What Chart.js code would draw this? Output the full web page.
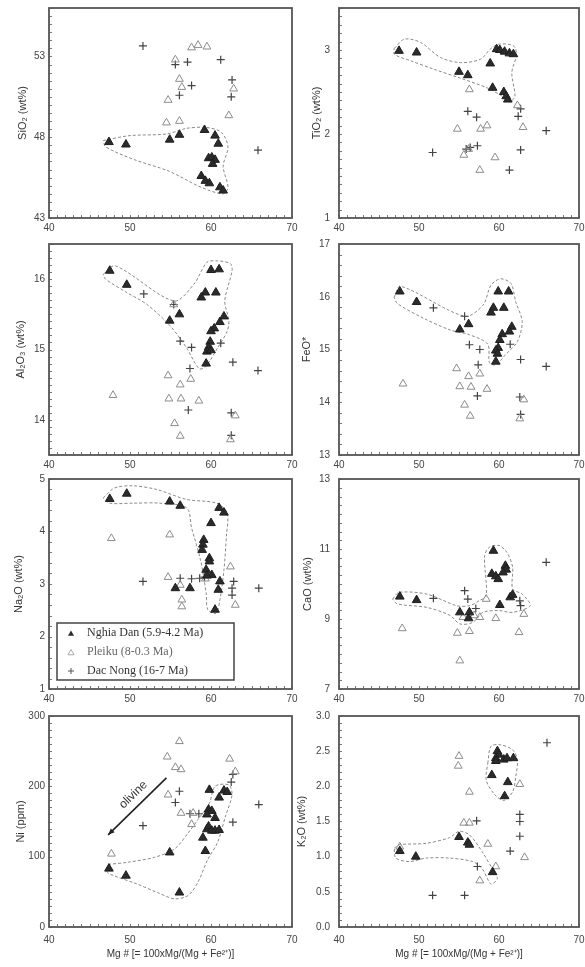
<!DOCTYPE html>
<html>
<head>
<meta charset="utf-8">
<script src="https://cdn.jsdelivr.net/npm/chart.js@4.4.1/dist/chart.umd.min.js"></script>
<style>
  body { margin: 0; background: #fff; width: 585px; height: 967px; position: relative; overflow: hidden; }
  canvas { position: absolute; }
</style>
</head>
<body>
<canvas id="cSiO2" width="300" height="236" style="left:0;top:2px"></canvas>
<canvas id="cTiO2" width="295" height="236" style="left:290px;top:2px"></canvas>
<canvas id="cAl2O3" width="300" height="237" style="left:0;top:238px"></canvas>
<canvas id="cFeO" width="295" height="237" style="left:290px;top:238px"></canvas>
<canvas id="cNa2O" width="300" height="236" style="left:0;top:473px"></canvas>
<canvas id="cCaO" width="295" height="236" style="left:290px;top:473px"></canvas>
<canvas id="cNi" width="300" height="250" style="left:0;top:710px"></canvas>
<canvas id="cK2O" width="295" height="250" style="left:290px;top:710px"></canvas>
<script>
// --- DATA: [Mg#, value] ---
const xTicks = [40, 50, 60, 70];

// SiO2 (wt%)
const sio2Nghia = [[47.4,47.7],[49.5,47.55],[54.9,47.85],[56.1,48.15],[59.2,48.45],[60.5,48.1],[60.9,47.6],[59.7,46.7],[60.1,46.75],[60.5,46.6],[60.2,46.35],[58.8,45.6],[59.3,45.3],[59.8,45.15],[61.1,44.9],[61.5,44.7]];
const sio2Pleiku = [[55.6,52.8],[57.6,53.55],[58.4,53.7],[59.5,53.6],[56.1,51.6],[56.4,51.1],[54.7,50.3],[54.5,48.9],[56.1,49.0],[62.8,51.0],[62.2,49.35]];
const sio2Dac = [[51.6,53.65],[57.1,52.65],[61.2,52.8],[57.6,51.2],[56.1,50.6],[62.6,51.55],[62.5,50.5],[65.8,47.2],[55.6,52.5]];
const sio2Env = [[46.7,47.8],[50,48.1],[54.5,48.2],[57,48.55],[59.5,48.6],[61.3,48.3],[62.1,47.4],[61.5,46.2],[62.1,44.9],[61.5,44.5],[58.8,44.9],[54.8,45.9],[50.6,46.6],[47,47.4]];
const sio2Ticks = [43, 48, 53];

// TiO2 (wt%)
const tio2Nghia = [[47.5,2.99],[49.7,2.97],[55.0,2.74],[56.1,2.70],[58.9,2.84],[59.2,2.55],[59.7,3.01],[60.1,3.0],[60.7,2.98],[61.3,2.96],[61.8,2.95],[60.6,2.5],[60.9,2.45],[61.1,2.41]];
const tio2Pleiku = [[56.3,2.53],[54.8,2.06],[58.5,2.10],[63.0,2.08],[62.3,2.34],[55.6,1.75],[59.5,1.72],[57.6,1.57],[56.2,1.82],[57.7,2.06]];
const tio2Dac = [[56.1,2.27],[57.2,2.2],[51.7,1.78],[55.9,1.82],[56.4,1.84],[57.3,1.86],[62.4,2.21],[62.7,1.81],[61.3,1.57],[65.9,2.04],[62.7,2.3]];
const tio2Env = [[46.9,3.02],[48.2,3.13],[50.2,3.09],[52.7,2.91],[55.2,2.85],[57.7,2.89],[58.9,3.01],[60.0,3.07],[61.8,3.05],[62.2,2.95],[61.6,2.73],[62.0,2.45],[61.4,2.39],[60.4,2.45],[58.5,2.55],[55.0,2.67],[51.9,2.77],[49.0,2.87],[46.9,2.95]];
const tio2Ticks = [1, 2, 3];

// Al2O3 (wt%)
const al2o3Nghia = [[47.5,16.12],[49.6,15.92],[54.9,15.41],[56.1,15.5],[60.0,16.13],[61.0,16.14],[59.3,15.81],[58.8,15.74],[60.6,15.81],[61.6,15.47],[61.1,15.39],[60.4,15.3],[60.0,15.26],[59.9,15.11],[59.7,15.03],[59.5,14.97],[59.4,14.8],[60.0,14.99]];
const al2o3Pleiku = [[47.9,14.35],[54.7,14.63],[56.2,14.5],[57.5,14.58],[54.8,14.3],[56.3,14.3],[58.5,14.27],[55.5,13.95],[56.2,13.77],[63.0,14.06],[62.4,13.72],[55.4,15.64]];
const al2o3Dac = [[51.7,15.79],[55.4,15.64],[56.2,15.12],[57.6,15.03],[57.4,14.73],[57.2,14.14],[61.2,15.09],[62.7,14.82],[65.8,14.7],[62.5,14.1],[62.5,13.78]];
const al2o3Env = [[46.7,16.07],[48.2,16.19],[55.4,15.69],[57.9,15.93],[59.5,16.24],[60.8,16.26],[62.4,16.22],[62.6,16.12],[61.7,15.69],[62.2,15.42],[62.0,15.26],[60.8,15.02],[59.3,14.75],[58.5,14.73],[57.0,15.02],[55.0,15.33],[52.1,15.64],[49.6,15.81],[47.0,16.0]];
const al2o3Ticks = [14, 15, 16];

// FeO*
const feoNghia = [[47.6,16.1],[49.7,15.9],[55.1,15.38],[56.2,15.48],[59.9,16.1],[61.2,16.1],[59.3,15.79],[59.0,15.7],[60.6,15.79],[61.6,15.43],[61.3,15.34],[60.4,15.29],[60.1,15.18],[59.9,15.03],[59.6,14.98],[59.8,14.92],[59.6,14.77]];
const feoPleiku = [[48.0,14.35],[54.7,14.64],[55.1,14.3],[56.2,14.49],[56.5,14.29],[57.6,14.54],[58.5,14.25],[55.7,13.95],[56.4,13.74],[63.1,14.05],[62.6,13.69]];
const feoDac = [[51.8,15.79],[55.7,15.63],[56.3,15.09],[57.6,15.0],[57.4,14.71],[57.3,14.12],[61.4,15.1],[62.7,14.81],[65.9,14.68],[62.6,14.1],[62.7,13.77]];
const feoEnv = [[46.9,15.99],[47.7,16.2],[55.7,15.63],[58.0,15.84],[59.0,16.22],[60.2,16.34],[61.5,16.25],[62.1,15.9],[62.9,15.53],[62.3,15.15],[60.8,14.9],[59.6,14.71],[58.8,14.75],[58.6,15.1],[56.3,15.28],[53.9,15.37],[50.6,15.59],[47.3,15.87]];
const feoTicks = [13, 14, 15, 16, 17];

// Na2O (wt%)
const na2oNghia = [[47.5,4.62],[49.6,4.72],[54.9,4.57],[56.2,4.49],[61.0,4.45],[61.6,4.36],[60.0,4.16],[59.1,3.84],[59.0,3.75],[58.9,3.65],[59.8,3.49],[59.8,3.43],[59.4,3.27],[60.1,3.17],[59.5,3.16],[61.1,3.05],[60.9,2.89],[55.6,2.92],[57.4,2.92],[60.5,2.51]];
const na2oPleiku = [[47.7,3.87],[54.9,3.94],[54.7,3.13],[56.2,2.98],[56.4,2.70],[56.4,2.57],[62.4,3.33],[63.0,2.6],[59.3,3.1]];
const na2oDac = [[51.6,3.05],[56.2,3.11],[57.6,3.1],[58.6,3.11],[62.8,3.05],[62.6,2.92],[62.6,2.79],[65.9,2.92],[59.2,3.13]];
const na2oEnv = [[46.7,4.64],[48.1,4.83],[50.4,4.87],[53.3,4.8],[57.0,4.61],[60.7,4.54],[62.0,4.35],[61.9,3.91],[61.6,3.27],[61.1,2.70],[60.6,2.44],[59.6,2.51],[59.4,2.83],[58.7,3.46],[57.6,4.07],[57.0,4.45],[53.7,4.54],[50.4,4.54],[47.5,4.54]];
const na2oTicks = [1, 2, 3, 4, 5];

// CaO (wt%)
const caoNghia = [[47.6,9.64],[49.7,9.54],[55.1,9.19],[56.2,9.02],[56.3,9.19],[59.3,10.95],[59.1,10.29],[59.6,10.22],[59.9,10.14],[60.8,10.52],[60.9,10.41],[60.5,10.33],[60.1,9.4],[61.4,9.62],[61.7,9.69]];
const caoPleiku = [[47.9,8.73],[54.8,8.6],[56.3,8.65],[55.1,7.81],[55.5,9.05],[56.9,9.1],[57.6,9.05],[59.6,9.02],[62.5,8.62],[63.1,9.14],[58.4,9.57]];
const caoDac = [[51.8,9.59],[55.7,9.81],[56.1,9.57],[57.1,9.3],[62.6,9.52],[62.7,9.38],[65.9,10.62]];
const caoEnv = [[46.7,9.57],[47.5,9.76],[51.0,9.71],[54.7,9.38],[56.3,9.38],[57.5,9.52],[58.4,9.67],[58.2,10.81],[58.8,11.05],[60.0,11.1],[61.0,10.9],[61.7,10.48],[61.7,9.86],[62.9,9.71],[63.9,9.38],[61.7,9.19],[60.0,9.24],[58.0,9.19],[56.7,8.9],[55.1,8.86],[53.9,9.1],[51.0,9.33],[47.3,9.43]];
const caoTicks = [7, 9, 11, 13];

// Ni (ppm)
const niNghia = [[47.4,83],[49.5,73],[54.9,106],[56.1,49],[59.8,195],[59.3,108],[59.0,127],[59.5,139],[59.7,143],[60.1,137],[60.5,137],[61.0,138],[59.7,167],[60.1,165],[60.5,155],[61.0,184],[61.6,194],[62.0,192],[59.5,160]];
const niPleiku = [[47.7,104],[54.6,242],[56.1,264],[55.6,227],[56.3,224],[54.7,188],[56.3,162],[57.6,146],[57.8,162],[62.3,239],[63.0,221]];
const niDac = [[51.6,144],[55.6,177],[56.1,193],[57.4,161],[58.5,161],[62.7,217],[62.5,206],[62.7,149],[65.9,174]];
const niEnv = [[47.3,89],[49.7,92],[53.0,99],[55.5,111],[57.2,134],[58.4,153],[59.8,176],[60.5,200],[62.2,202],[62.6,188],[61.8,158],[60.8,120],[59.6,96],[58.4,64],[57.2,45],[55.5,40],[53.4,49],[50.9,61],[48.0,73],[47.2,78]];
const niTicks = [0, 100, 200, 300];
const olivineFrom = [54.5, 212];
const olivineTo = [47.3, 131];
const olivineLabel = [50.4, 188];

// K2O (wt%)
const k2oNghia = [[47.6,1.08],[49.6,1.0],[55.0,1.28],[56.1,1.2],[56.3,1.17],[59.2,0.78],[59.8,2.5],[60.0,2.45],[59.6,2.4],[60.6,2.38],[61.0,2.4],[61.8,2.4],[59.1,2.16],[61.1,2.06],[60.7,1.86],[59.6,2.36]];
const k2oPleiku = [[55.0,2.43],[54.9,2.29],[56.3,1.92],[62.6,2.03],[55.6,1.48],[56.3,1.48],[58.6,1.18],[63.2,0.99],[57.6,0.66],[59.6,0.86],[47.6,1.14]];
const k2oDac = [[51.7,0.45],[55.7,0.45],[57.3,0.86],[62.6,1.6],[62.6,1.5],[62.6,1.29],[61.4,1.08],[66.0,2.62],[57.2,1.51]];
const k2oEnvUpper = [[58.6,2.33],[59.0,2.57],[60.2,2.59],[61.7,2.52],[62.3,2.38],[62.1,2.14],[61.7,1.92],[60.6,1.8],[59.4,1.89],[58.4,2.09]];
const k2oEnvLower = [[46.9,1.12],[47.6,1.17],[50.9,1.19],[53.8,1.27],[55.0,1.36],[56.3,1.31],[57.9,1.07],[59.4,0.78],[59.8,0.69],[59.0,0.61],[57.9,0.83],[56.7,0.93],[53.8,0.98],[50.9,0.98],[48.8,0.93],[47.1,0.98]];
const k2oTicks = [0, 0.5, 1.0, 1.5, 2.0, 2.5, 3.0];

const legendLabels = ['Nghia Dan (5.9-4.2 Ma)', 'Pleiku (8-0.3 Ma)', 'Dac Nong (16-7 Ma)'];

// --- STYLES ---
const FONT = '"Liberation Sans", Arial, sans-serif';
const DARK = '#2b2b2b';
const OPEN = '#8c8c8c';
const CROSS = '#444';

const toXY = arr => arr.map(p => ({ x: p[0], y: p[1] }));

// frame + inward minor ticks
const framePlugin = {
    id: 'frame',
    beforeDatasetsDraw(chart, args, o) {
        const { ctx, chartArea: a } = chart;
        const x = chart.scales.x, y = chart.scales.y;
        ctx.save();
        ctx.strokeStyle = '#777';
        ctx.lineWidth = 1;
        ctx.beginPath();
        for (let v = x.min; v <= x.max + 1e-9; v += o.xMinor) {
            const px = Math.round(x.getPixelForValue(v)) + 0.5;
            ctx.moveTo(px, a.bottom); ctx.lineTo(px, a.bottom - 3);
        }
        for (let v = y.min; v <= y.max + 1e-9; v += o.yMinor) {
            const py = Math.round(y.getPixelForValue(v)) + 0.5;
            ctx.moveTo(a.left, py); ctx.lineTo(a.left + 3, py);
        }
        ctx.stroke();
        ctx.strokeStyle = '#555';
        ctx.lineWidth = 1.8;
        ctx.strokeRect(a.left, a.top, a.right - a.left, a.bottom - a.top);
        ctx.restore();
    }
};

function triPath(ctx, cx, cy, r) {
    ctx.beginPath();
    ctx.moveTo(cx, cy - r);
    ctx.lineTo(cx + r * 0.87, cy + r * 0.5);
    ctx.lineTo(cx - r * 0.87, cy + r * 0.5);
    ctx.closePath();
}

// legend box inside the Na2O panel
const boxLegend = {
    id: 'boxLegend',
    afterDatasetsDraw(chart, args, o) {
        if (!o.on) return;
        const { ctx, chartArea: a } = chart;
        const left = a.left + 8, top = a.top + 144, w = 177, h = 57;
        ctx.save();
        ctx.fillStyle = '#fff';
        ctx.fillRect(left, top, w, h);
        ctx.strokeStyle = '#444';
        ctx.lineWidth = 1.5;
        ctx.strokeRect(left, top, w, h);
        ctx.font = '12px "Liberation Serif", "Times New Roman", serif';
        ctx.textBaseline = 'middle';
        legendLabels.forEach((label, i) => {
            const cy = top + 10 + i * 19;
            const mx = left + 14;
            if (i === 0) {
                triPath(ctx, mx, cy + 1, 3.5);
                ctx.fillStyle = DARK; ctx.fill();
            } else if (i === 1) {
                triPath(ctx, mx, cy + 1, 3.5);
                ctx.strokeStyle = '#aaa'; ctx.lineWidth = 1; ctx.stroke();
            } else {
                ctx.beginPath();
                ctx.moveTo(mx - 3, cy); ctx.lineTo(mx + 3, cy);
                ctx.moveTo(mx, cy - 3); ctx.lineTo(mx, cy + 3);
                ctx.strokeStyle = '#555'; ctx.lineWidth = 1; ctx.stroke();
            }
            ctx.fillStyle = i === 1 ? '#666' : '#333';
            ctx.fillText(label, left + 30, cy);
        });
        ctx.restore();
    }
};

// olivine vector in the Ni panel
const olivinePlugin = {
    id: 'olivine',
    afterDatasetsDraw(chart, args, o) {
        if (!o.on) return;
        const { ctx } = chart;
        const x = chart.scales.x, y = chart.scales.y;
        const x1 = x.getPixelForValue(olivineFrom[0]), y1 = y.getPixelForValue(olivineFrom[1]);
        const x2 = x.getPixelForValue(olivineTo[0]), y2 = y.getPixelForValue(olivineTo[1]);
        const ang = Math.atan2(y2 - y1, x2 - x1);
        ctx.save();
        ctx.strokeStyle = '#222';
        ctx.fillStyle = '#222';
        ctx.lineWidth = 1.6;
        ctx.beginPath();
        ctx.moveTo(x1, y1); ctx.lineTo(x2, y2);
        ctx.stroke();
        ctx.beginPath();
        ctx.moveTo(x2, y2);
        ctx.lineTo(x2 - 7 * Math.cos(ang - 0.4), y2 - 7 * Math.sin(ang - 0.4));
        ctx.lineTo(x2 - 7 * Math.cos(ang + 0.4), y2 - 7 * Math.sin(ang + 0.4));
        ctx.closePath();
        ctx.fill();
        const lx = x.getPixelForValue(olivineLabel[0]), ly = y.getPixelForValue(olivineLabel[1]);
        ctx.translate(lx, ly);
        ctx.rotate(ang + Math.PI);
        ctx.font = '12px ' + FONT;
        ctx.fillStyle = '#333';
        ctx.textAlign = 'center';
        ctx.textBaseline = 'middle';
        ctx.fillText('olivine', 0, 0);
        ctx.restore();
    }
};

function makePanel(id, p) {
    const right = p.col === 1;
    const datasets = [
        { data: toXY(p.nghia), pointStyle: 'triangle', pointRadius: 5, backgroundColor: DARK, borderColor: '#1e1e1e', borderWidth: 1 },
        { data: toXY(p.pleiku), pointStyle: 'triangle', pointRadius: 4.5, backgroundColor: 'rgba(255,255,255,0)', borderColor: OPEN, borderWidth: 1 },
        { data: toXY(p.dac), pointStyle: 'cross', pointRadius: 4, borderColor: CROSS, borderWidth: 1.2 }
    ];
    p.envs.forEach(e => {
        datasets.push({
            data: toXY(e.concat([e[0]])), showLine: true, pointRadius: 0,
            borderColor: '#8a8a8a', borderWidth: 1, borderDash: [3, 2], tension: 0.3, fill: false
        });
    });

    new Chart(document.getElementById(id), {
        type: 'scatter',
        data: { datasets },
        plugins: [framePlugin, boxLegend, olivinePlugin],
        options: {
            responsive: false,
            animation: false,
            events: [],
            layout: { padding: { top: 6, right: right ? 3 : 8, left: 0, bottom: 0 } },
            plugins: {
                legend: { display: false },
                tooltip: { enabled: false },
                frame: { xMinor: 1, yMinor: p.yMinor },
                boxLegend: { on: !!p.legend },
                olivine: { on: !!p.olivine }
            },
            scales: {
                x: {
                    type: 'linear', min: 40, max: 70,
                    afterBuildTicks: s => { s.ticks = xTicks.map(v => ({ value: v })); },
                    afterFit: s => { s.height = p.bottom ? 33 : 20; s.paddingLeft = 0; s.paddingRight = 0; },
                    grid: { display: false, drawTicks: false },
                    border: { display: false },
                    ticks: { padding: p.bottom ? 7 : 4, color: '#444', font: { family: FONT, size: 10 }, autoSkip: false, maxRotation: 0 },
                    title: {
                        display: !!p.bottom,
                        text: 'Mg # [= 100xMg/(Mg + Fe²⁺)]',
                        color: '#333', font: { family: FONT, size: 10 }, padding: { top: 2, bottom: 0 }
                    }
                },
                y: {
                    type: 'linear', min: p.yMin, max: p.yMax,
                    afterBuildTicks: s => { s.ticks = p.yTicks.map(v => ({ value: v })); },
                    afterFit: s => { s.width = 49; s.paddingTop = 0; s.paddingBottom = 0; },
                    grid: { display: false, drawTicks: false },
                    border: { display: false },
                    ticks: {
                        padding: right ? 9 : 4, color: '#444', font: { family: FONT, size: 10 },
                        callback: v => p.dec ? v.toFixed(1) : v
                    },
                    title: {
                        display: true, text: p.title,
                        color: '#333', font: { family: FONT, size: 11 }, padding: { top: p.titlePad, bottom: 0 }
                    }
                }
            }
        }
    });
}

makePanel('cSiO2', { col: 0, nghia: sio2Nghia, pleiku: sio2Pleiku, dac: sio2Dac, envs: [sio2Env], yMin: 43, yMax: 56, yTicks: sio2Ticks, yMinor: 0.5, title: 'SiO₂ (wt%)', titlePad: 16 });
makePanel('cTiO2', { col: 1, nghia: tio2Nghia, pleiku: tio2Pleiku, dac: tio2Dac, envs: [tio2Env], yMin: 1, yMax: 3.5, yTicks: tio2Ticks, yMinor: 0.1, title: 'TiO₂ (wt%)', titlePad: 20 });
makePanel('cAl2O3', { col: 0, nghia: al2o3Nghia, pleiku: al2o3Pleiku, dac: al2o3Dac, envs: [al2o3Env], yMin: 13.5, yMax: 16.5, yTicks: al2o3Ticks, yMinor: 0.1, title: 'Al₂O₃ (wt%)', titlePad: 14 });
makePanel('cFeO', { col: 1, nghia: feoNghia, pleiku: feoPleiku, dac: feoDac, envs: [feoEnv], yMin: 13, yMax: 17, yTicks: feoTicks, yMinor: 0.2, title: 'FeO*', titlePad: 10 });
makePanel('cNa2O', { col: 0, nghia: na2oNghia, pleiku: na2oPleiku, dac: na2oDac, envs: [na2oEnv], yMin: 1, yMax: 5, yTicks: na2oTicks, yMinor: 0.2, title: 'Na₂O (wt%)', titlePad: 12, legend: true });
makePanel('cCaO', { col: 1, nghia: caoNghia, pleiku: caoPleiku, dac: caoDac, envs: [caoEnv], yMin: 7, yMax: 13, yTicks: caoTicks, yMinor: 0.25, title: 'CaO (wt%)', titlePad: 11 });
makePanel('cNi', { col: 0, nghia: niNghia, pleiku: niPleiku, dac: niDac, envs: [niEnv], yMin: 0, yMax: 300, yTicks: niTicks, yMinor: 10, title: 'Ni (ppm)', titlePad: 14, olivine: true, bottom: true });
makePanel('cK2O', { col: 1, nghia: k2oNghia, pleiku: k2oPleiku, dac: k2oDac, envs: [k2oEnvUpper, k2oEnvLower], yMin: 0, yMax: 3, yTicks: k2oTicks, yMinor: 0.1, title: 'K₂O (wt%)', titlePad: 5, dec: true, bottom: true });
</script>
</body>
</html>
